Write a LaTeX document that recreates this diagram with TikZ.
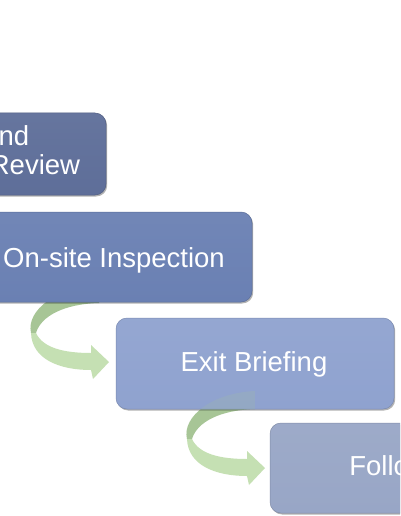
\documentclass[tikz,border=0pt]{standalone}
\usepackage{fontspec}
\setmainfont{Liberation Sans}
\usetikzlibrary{shadows}
\definecolor{cA}{HTML}{5E6E99}
\definecolor{cB}{HTML}{6A80B3}
\definecolor{cC}{HTML}{8FA2CF}
\definecolor{cD}{HTML}{98A6C6}
\definecolor{gDark}{HTML}{A7C596}
\definecolor{gLight}{HTML}{C5E0B3}
\tikzset{
  stepbox/.style={rounded corners=11pt, inner sep=0pt, draw=#1!85!black, line width=0.5pt,
    top color=#1!95!white, bottom color=#1,
    drop shadow={shadow xshift=1.2pt, shadow yshift=-1.5pt, opacity=0.3, fill=black}},
  lbl/.style={text=white, font=\fontsize{27.5}{30}\selectfont, inner sep=0pt, anchor=base},
  curvearrow/.pic={
    \fill[gDark] (-10,-77) .. controls (-52,-75) and (-83,-52) .. (-78,-29)
      -- (-73,-29) .. controls (-68,-46) and (-45,-58) .. (-10,-59) -- cycle;
    \fill[gLight] (-78,-29) .. controls (-77,-3) and (-50,8) .. (-18,8)
      -- (-16,17) -- (0,0) -- (-18,-17) -- (-18,-9)
      .. controls (-45,-9) and (-66,-14) .. (-73,-29) -- cycle;
  },
  curvetail/.pic={
    \fill[gDark, fill opacity=0.18] (-10,-77) .. controls (-52,-75) and (-83,-52) .. (-78,-29)
      -- (-73,-29) .. controls (-68,-46) and (-45,-58) .. (-10,-59) -- cycle;
  }
}
\begin{document}
\begin{tikzpicture}[x=1pt,y=-1pt]
\useasboundingbox (0,0) rectangle (400,516);
\clip (0,0) rectangle (400,516);
\fill[white] (0,0) rectangle (400,516);
\path (-29,154) coordinate (p1) (114,257) coordinate (p2) (255,363.5) coordinate (p3) (409,468) coordinate (p4);
\pic at ([xshift=-7pt]116,362) {curvearrow};
\pic at ([xshift=-5pt]270,468) {curvearrow};
\node[stepbox=cA, minimum width=270pt, minimum height=82pt] (b1) at (p1) {};
\node[stepbox=cB, minimum width=276pt, minimum height=90pt] (b2) at (p2) {};
\node[stepbox=cC, minimum width=278pt, minimum height=91pt] (b3) at (p3) {};
\node[stepbox=cD, minimum width=278pt, minimum height=90pt] (b4) at (p4) {};
\pic at ([xshift=-5pt]b4.west) {curvetail};
\node[lbl] (t1a) at (-36.5,145) {Notice and};
\node[lbl] (t1b) at (-31.5,174) {Document Review};
\node[lbl] (t2) at (114,267) {On-site Inspection};
\node[lbl] (t3) at (254,371) {Exit Briefing};
\node[lbl] (t4) at (409,475) {Follow-up};
\end{tikzpicture}
\end{document}
